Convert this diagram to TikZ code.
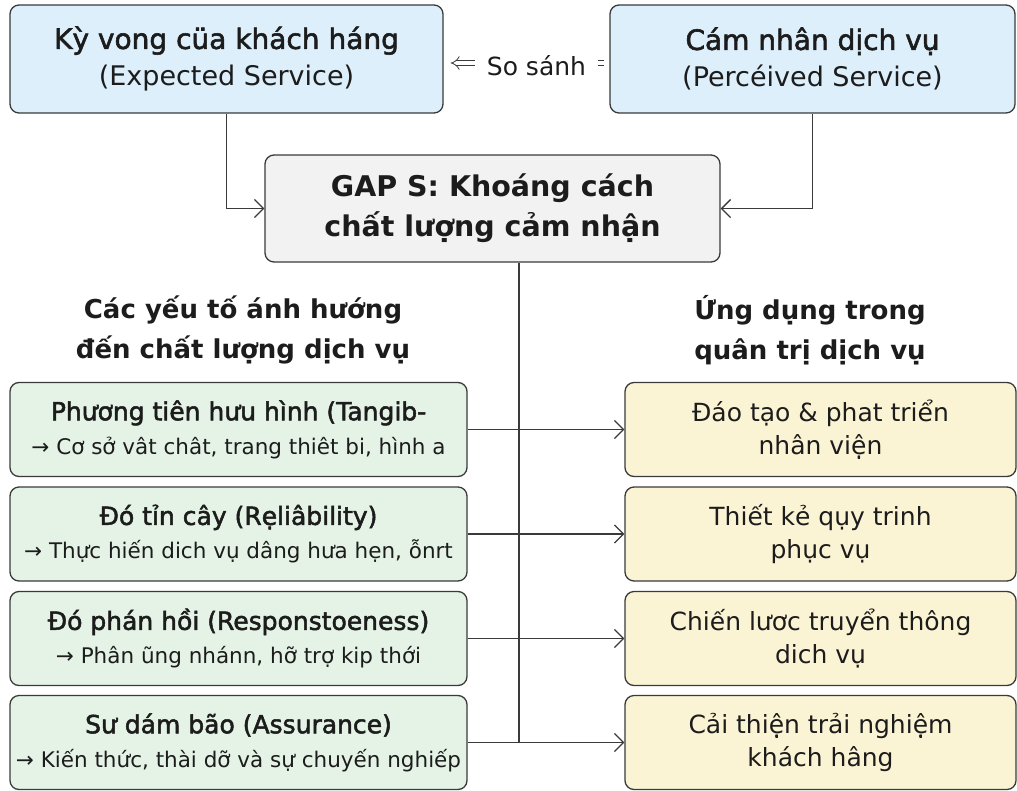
\documentclass[tikz,border=0pt]{standalone}
\usepackage{fontspec}
\setmainfont{DejaVu Sans}
\newfontfamily\medfont{DejaVu Sans}[FakeBold=2]
\usetikzlibrary{arrows.meta}

\definecolor{edge}{HTML}{3A3A3A}
\definecolor{ink}{HTML}{1C1C1C}
\definecolor{bluefill}{HTML}{DCEFFA}
\definecolor{grayfill}{HTML}{F2F2F2}
\definecolor{greenfill}{HTML}{E4F3E6}
\definecolor{yellowfill}{HTML}{FBF4D4}

\tikzset{
  box/.style={draw=edge, line width=1.3pt, rounded corners=9pt, inner sep=0pt,
    align=center, text=ink},
  topbox/.style={box, fill=bluefill, minimum height=108pt,
    font=\fontsize{27}{37}\selectfont},
  gapbox/.style={box, fill=grayfill, minimum width=455pt, minimum height=107pt,
    font=\bfseries\fontsize{28.5}{40}\selectfont},
  heading/.style={align=center, text=ink, font=\bfseries\fontsize{26}{40}\selectfont},
  factor/.style={box, fill=greenfill, minimum width=457pt, minimum height=94pt,
    font=\fontsize{21.5}{34}\selectfont},
  useit/.style={box, fill=yellowfill, minimum width=391pt, minimum height=94pt,
    font=\fontsize{25}{33}\selectfont},
  wire/.style={draw=edge, line width=1.3pt},
  link/.style={wire, -{Straight Barb[length=9pt,width=18pt]}},
  compare/.style={draw=edge, line width=0.8pt, double=white, double distance=4pt,
    -{Implies[scale=1.5]}, shorten >=7pt, shorten <=5pt},
}

\begin{document}
\begin{tikzpicture}[x=1pt, y=-1pt]
\useasboundingbox (0,0) rectangle (1017,790);

% expected and perceived service
\node[topbox, minimum width=433pt] (ka) at (226.5,59)
  {{\medfont\fontsize{28}{37}\selectfont Kỳ vong cüa khách háng}\\(Expected Service)};
\node[topbox, minimum width=405pt] (pc) at (812.5,59)
  {{\medfont\fontsize{28}{37}\selectfont Cám nhân dịch vụ}\\(Percéived Service)};

% the gap
\node[gapbox] (gap) at (492.5,208.5)
  {GAP S: Khoáng cách\\chất lượng cảm nhận};

% column headings
\node[heading] (hl) at (243,330) {Các yếu tố ánh hướng\\đến chất lượng dịch vụ};
\node[heading] (hr) at (810,330) {Ứng dụng trong\\quân trị dịch vụ};

% factors
\node[factor] (l1) at (238.5,429.5)
  {{\medfont\fontsize{25}{34}\selectfont Phương tiên hưu hình (Tangib-}\\→ Cơ sở vât chât, trang thiêt bi, hình a};
\node[factor] (l2) at (238.5,534)
  {{\medfont\fontsize{25}{34}\selectfont Đó tỉn cây (Rẹliâbility)}\\→ Thực hiến dich vụ dâng hưa hẹn, ỗnrt};
\node[factor] (l3) at (238.5,638.5)
  {{\medfont\fontsize{25}{34}\selectfont Đó phán hồi (Responstoeness)}\\→ Phân ũng nhánn, hỡ trợ kip thới};
\node[factor] (l4) at (238.5,742.5)
  {{\medfont\fontsize{25}{34}\selectfont Sư dám bão (Assurance)}\\→ Kiến thức, thài dỡ và sự chuyến nghiếp};

% applications
\node[useit] (r1) at (820.5,429.5) {Đáo tạo \& phat triển\\nhân viện};
\node[useit] (r2) at (820.5,534) {Thiết kẻ qụy trinh\\phục vụ};
\node[useit] (r3) at (820.5,638.5) {Chiến lươc truyển thông\\dich vụ};
\node[useit] (r4) at (820.5,742.5) {Cải thiện trải nghiệm\\khách hâng};

% comparison between the two top boxes
\draw[compare] ([yshift=-4pt]pc.west) --
  node[pos=0.44, fill=white, inner xsep=12pt, inner ysep=2pt, text=ink,
       font=\fontsize{25}{30}\selectfont, yshift=-3pt] (cmp) {So sánh}
  ([yshift=-4pt]ka.east);

% into the gap
\draw[link] (ka.south) |- (gap.west);
\draw[link] (pc.south) |- (gap.east);

% trunk and branches
\path (gap.south) ++(26.5,0) coordinate (trunk);
\draw[wire] (trunk) -- (trunk |- l4.east);
\foreach \i in {1,...,4}
  \draw[link] (l\i.east) -- (r\i.west);
\end{tikzpicture}
\end{document}
